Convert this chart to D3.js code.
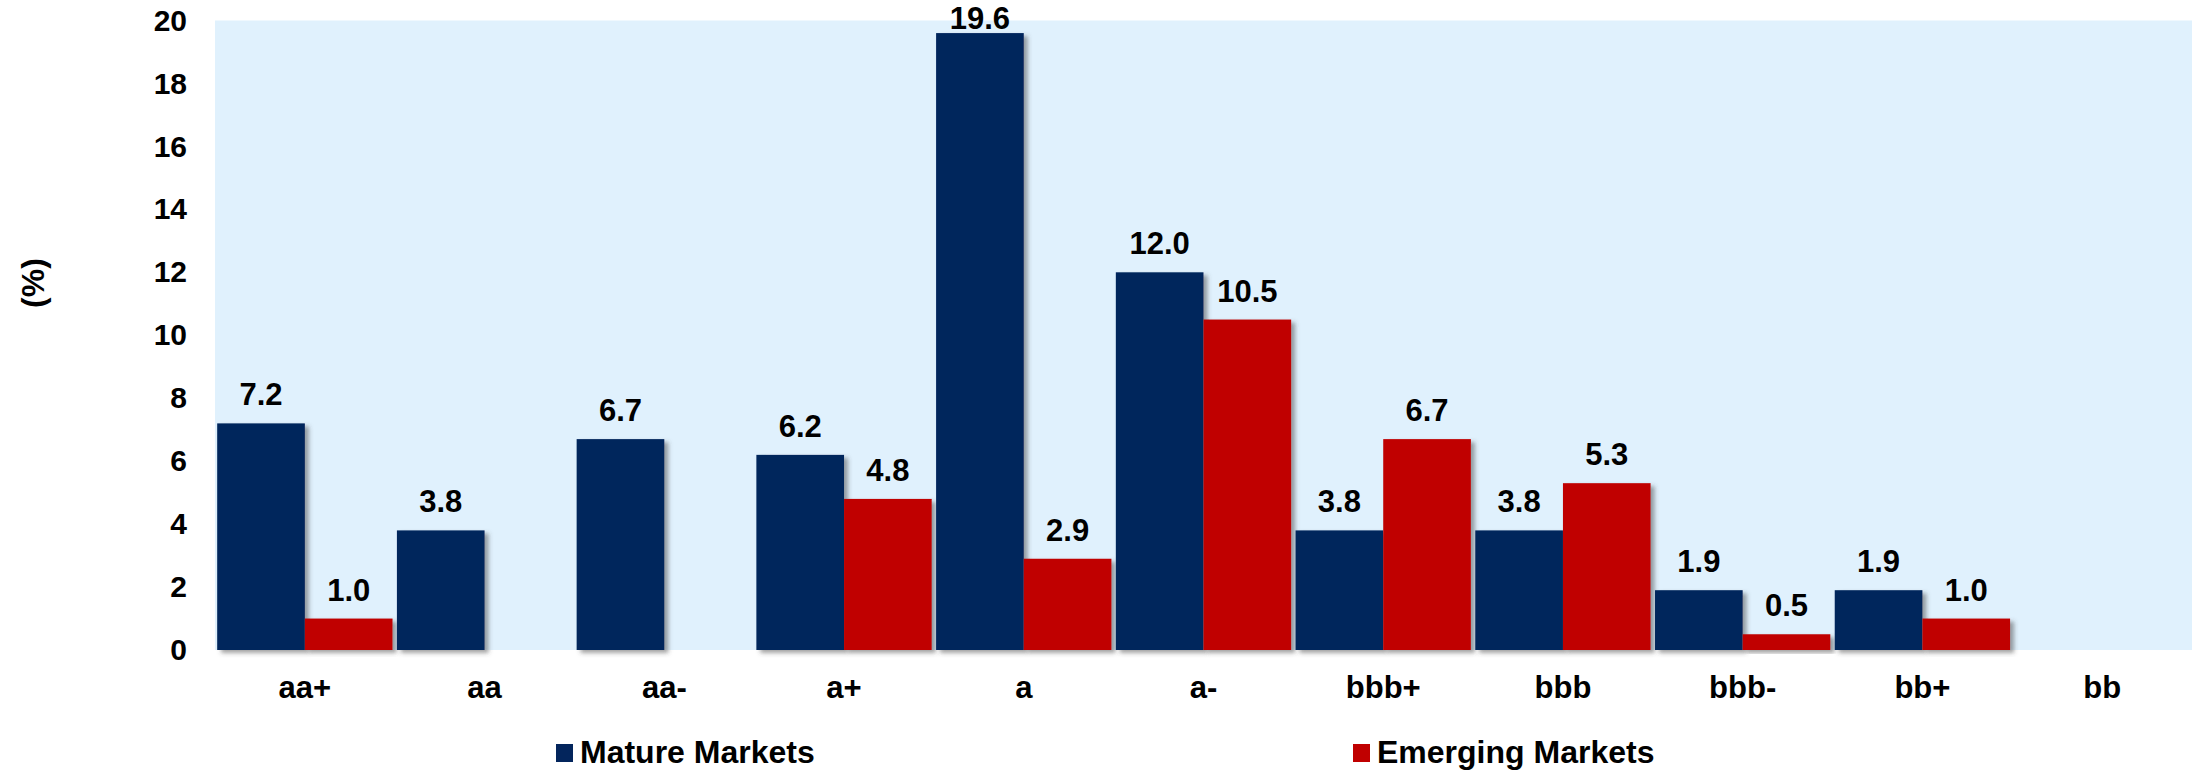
<!DOCTYPE html>
<html>
<head>
<meta charset="utf-8">
<script src="https://cdn.jsdelivr.net/npm/d3@7"></script>
<style>
  html, body { margin: 0; padding: 0; background: #fff; }
  svg { display: block; }
  text { font-family: "Liberation Sans", Arial, sans-serif; font-weight: bold; fill: #000; }
</style>
</head>
<body>
<script>
const categories = ["aa+", "aa", "aa-", "a+", "a", "a-", "bbb+", "bbb", "bbb-", "bb+", "bb"];
const seriesNames = ["Mature Markets", "Emerging Markets"];
const matureValues = [7.2, 3.8, 6.7, 6.2, 19.6, 12.0, 3.8, 3.8, 1.9, 1.9, null];
const emergingValues = [1.0, null, null, 4.8, 2.9, 10.5, 6.7, 5.3, 0.5, 1.0, null];
const yTicks = [0, 2, 4, 6, 8, 10, 12, 14, 16, 18, 20];
const colors = ["#03255C", "#C00000"];

const W = 2192, H = 771;
const margin = { left: 215, right: 0, top: 20.5, bottom: 121 };
const svg = d3.select("body").append("svg").attr("width", W).attr("height", H);

const defs = svg.append("defs");
const f = defs.append("filter").attr("id", "shadow").attr("x", "-20%").attr("y", "-20%").attr("width", "140%").attr("height", "140%");
f.append("feDropShadow").attr("dx", 4).attr("dy", 3).attr("stdDeviation", 2.2)
  .attr("flood-color", "#444").attr("flood-opacity", 0.5);
const f2 = defs.append("filter").attr("id", "lshadow").attr("x", "-5%").attr("y", "-300%").attr("width", "110%").attr("height", "700%");
f2.append("feDropShadow").attr("dx", 0).attr("dy", 3).attr("stdDeviation", 2)
  .attr("flood-color", "#555").attr("flood-opacity", 0.5);

const x0 = d3.scaleBand().domain(categories).range([margin.left, W - margin.right]).paddingInner(0).paddingOuter(0);
const x1 = d3.scaleBand().domain(seriesNames).range([0, x0.bandwidth()]).paddingInner(0).paddingOuter(0.025);
const y = d3.scaleLinear().domain([0, 20]).range([H - margin.bottom, margin.top]);

// plot background
svg.append("rect")
  .attr("x", margin.left).attr("y", y(20))
  .attr("width", W - margin.right - margin.left).attr("height", y(0) - y(20))
  .attr("fill", "#E0F1FD");

const rows = categories.map((c, i) => ({ c, vals: [matureValues[i], emergingValues[i]] }));

// bars
const g = svg.append("g");
rows.forEach(r => {
  r.vals.forEach((v, k) => {
    if (v == null) return;
    g.append("rect")
      .attr("x", x0(r.c) + x1(seriesNames[k]))
      .attr("y", y(v))
      .attr("width", x1.bandwidth())
      .attr("height", y(0) - y(v))
      .attr("fill", colors[k])
      .attr("filter", "url(#shadow)");
  });
});

// axis baseline
svg.append("line")
  .attr("x1", margin.left).attr("x2", W - margin.right)
  .attr("y1", y(0) + 1).attr("y2", y(0) + 1)
  .attr("stroke", "#8a8a8a").attr("stroke-width", 2)
  .attr("filter", "url(#lshadow)");

// value labels
rows.forEach(r => {
  r.vals.forEach((v, k) => {
    if (v == null) return;
    svg.append("text")
      .attr("x", x0(r.c) + x1(seriesNames[k]) + x1.bandwidth() / 2)
      .attr("y", Math.max(y(v) - 18, y(20) + 8.5))
      .attr("text-anchor", "middle")
      .style("font-size", "31px")
      .text(d3.format(".1f")(v));
  });
});

// y axis
const yAxis = d3.axisLeft(y).tickValues(yTicks).tickSize(0).tickPadding(0).tickFormat(d3.format("d"));
const ya = svg.append("g").attr("transform", `translate(187,0)`).call(yAxis);
ya.select(".domain").remove();
ya.selectAll("text").style("font-size", "30px").attr("font-family", null).attr("fill", "#000");

// x axis
const xAxis = d3.axisBottom(x0).tickSize(0).tickPadding(0);
const xa = svg.append("g").attr("transform", `translate(0,${y(0)})`).call(xAxis);
xa.select(".domain").remove();
xa.selectAll("text").attr("dy", null).attr("y", 48).style("font-size", "31px").attr("font-family", null).attr("fill", "#000");

// y label
svg.append("text")
  .attr("transform", `translate(44,283) rotate(-90)`)
  .attr("text-anchor", "middle")
  .style("font-size", "32px")
  .text("(%)");

// legend
const legendX = [556, 1353];
seriesNames.forEach((s, k) => {
  svg.append("rect").attr("x", legendX[k]).attr("y", 744).attr("width", 17).attr("height", 18).attr("fill", colors[k]);
  svg.append("text").attr("x", legendX[k] + 24).attr("y", 763).style("font-size", "32px").text(s);
});
</script>
</body>
</html>
